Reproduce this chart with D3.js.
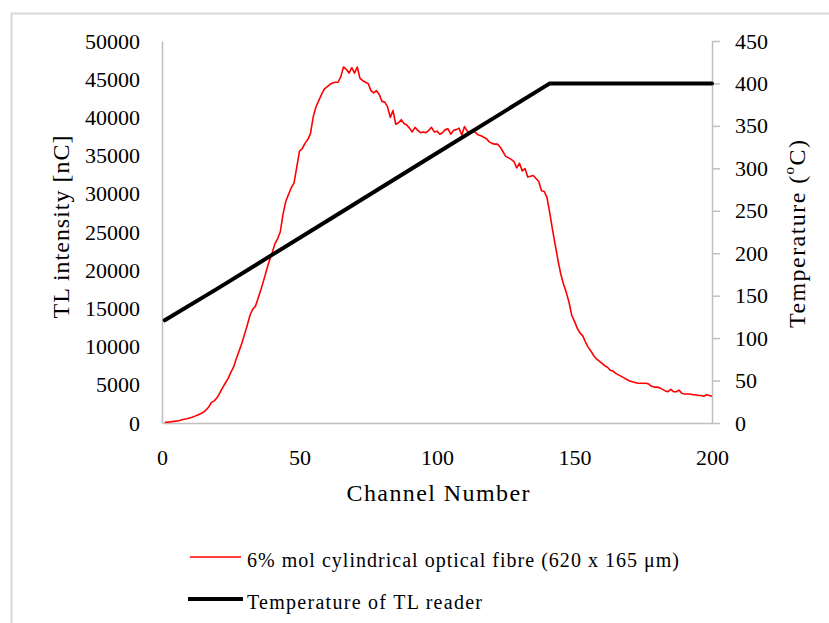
<!DOCTYPE html>
<html>
<head>
<meta charset="utf-8">
<script src="https://d3js.org/d3.v7.min.js"></script>
<style>
  html, body { margin: 0; padding: 0; background: #fff; }
  svg { display: block; }
  text { font-family: "Liberation Serif", "Times New Roman", serif; fill: #000; }
</style>
</head>
<body>
<svg id="chart" width="829" height="623"></svg>
<script>
// ---- Data ----
const channels = d3.range(1, 201); // channel numbers 1..200 (x categories)
const tlIntensity = [
  100, 120, 150, 200, 250, 300, 400, 500, 550, 650,
  750, 900, 1050, 1200, 1400, 1700, 2100, 2700, 2900, 3300,
  3900, 4600, 5200, 5800, 6600, 7300, 8400, 9400, 10400, 11600,
  12800, 14100, 14900, 15300, 16400, 17500, 18700, 20000, 21200, 22200,
  23400, 24100, 25000, 27300, 29000, 29900, 30800, 31400, 33500, 35600,
  35900, 36600, 37100, 37900, 40100, 41400, 42200, 43000, 43700, 44000,
  44300, 44500, 44600, 44600, 45300, 46600, 46300, 45800, 46500, 45800,
  46600, 45100, 44800, 44600, 44400, 43500, 43200, 43500, 43000, 42100,
  42000, 41400, 40000, 40900, 39100, 39300, 39700, 39200, 39000, 38600,
  38100, 38700, 38300, 38000, 38100, 38000, 38300, 38700, 38100, 38200,
  37800, 38000, 38400, 38500, 37800, 38300, 38400, 38600, 37700, 38800,
  38200, 38100, 38300, 38000, 37700, 37600, 37400, 37200, 36800, 36600,
  36500, 36500, 36100, 35500, 34900, 34700, 34500, 34200, 33400, 34000,
  33000, 33300, 32200, 32300, 32400, 32000, 31600, 30400, 30300, 29500,
  27500, 25300, 23300, 21300, 19500, 18200, 17100, 15800, 14100, 13300,
  12400, 11800, 11400, 10600, 9900, 9400, 8800, 8400, 8100, 7800,
  7500, 7300, 6900, 6800, 6500, 6300, 6100, 5900, 5700, 5500,
  5400, 5300, 5200, 5200, 5200, 5200, 5100, 4800, 4700, 4700,
  4600, 4400, 4200, 4100, 4400, 4100, 4100, 4300, 3900, 3800,
  3800, 3800, 3700, 3700, 3600, 3600, 3500, 3700, 3600, 3500
];
const tempChannels = [1, 20, 40, 60, 80, 100, 120, 140, 141, 160, 180, 200];
const temperature  = [121, 158, 198, 238, 278, 318, 358, 398, 400, 400, 400, 400];

const xTicks = [0, 50, 100, 150, 200];
const yLeftTicks = [0, 5000, 10000, 15000, 20000, 25000, 30000, 35000, 40000, 45000, 50000];
const yRightTicks = [0, 50, 100, 150, 200, 250, 300, 350, 400, 450];

const seriesNames = ["6% mol cylindrical optical fibre (620 x 165 \u03bcm)", "Temperature of TL reader"];

// ---- Layout ----
const svg = d3.select("#chart");
const plot = { left: 162, right: 712, top: 41, bottom: 423 };
const axisColor = "#bfbfbf";
const FONT = "'Liberation Serif', 'Times New Roman', serif";

const x = d3.scaleLinear().domain([0, 200]).range([plot.left, plot.right]);
const yL = d3.scaleLinear().domain([0, 50000]).range([plot.bottom, plot.top]);
const yR = d3.scaleLinear().domain([0, 450]).range([plot.bottom, plot.top]);

// outer chart border (left & top visible)
svg.append("rect")
  .attr("x", 11.5).attr("y", 13.5).attr("width", 900).attr("height", 700)
  .attr("fill", "none").attr("stroke", "#d9d9d9").attr("stroke-width", 2);

function styleAxis(g) {
  g.attr("font-family", FONT);
  g.select(".domain").attr("stroke", axisColor).attr("stroke-width", 1.5);
  g.selectAll(".tick line").attr("stroke", axisColor).attr("stroke-width", 1.5);
  g.selectAll("text").style("font-size", "22px").style("font-family", FONT).attr("fill", "#000");
}

// Left axis
svg.append("g").attr("transform", `translate(${plot.left},0)`)
  .call(d3.axisLeft(yL).tickValues(yLeftTicks).tickSize(0).tickPadding(22).tickFormat(d3.format("d")))
  .call(styleAxis);

// Right axis
svg.append("g").attr("transform", `translate(${plot.right},0)`)
  .call(d3.axisRight(yR).tickValues(yRightTicks).tickSize(8).tickPadding(15).tickSizeOuter(0).tickFormat(d3.format("d")))
  .call(styleAxis);

// Bottom axis
svg.append("g").attr("transform", `translate(0,${plot.bottom})`)
  .call(d3.axisBottom(x).tickValues(xTicks).tickSize(0).tickPadding(26).tickFormat(d3.format("d")))
  .call(styleAxis);

// Red TL curve
const tlData = channels.map((c, i) => [c, tlIntensity[i]]);
svg.append("path")
  .datum(tlData)
  .attr("fill", "none").attr("stroke", "#ff0000").attr("stroke-width", 1.6)
  .attr("stroke-linejoin", "round")
  .attr("d", d3.line().x(d => x(d[0])).y(d => yL(d[1])));

// Black temperature curve
const tData = tempChannels.map((c, i) => [c, temperature[i]]);
svg.append("path")
  .datum(tData)
  .attr("fill", "none").attr("stroke", "#000").attr("stroke-width", 4)
  .attr("stroke-linejoin", "round").attr("stroke-linecap", "round")
  .attr("d", d3.line().x(d => x(d[0])).y(d => yR(d[1])));

// Axis titles
svg.append("text")
  .attr("transform", "translate(61,227) rotate(-90)")
  .attr("text-anchor", "middle").attr("dominant-baseline", "central")
  .attr("textLength", 183).attr("lengthAdjust", "spacing")
  .style("font-family", FONT).style("font-size", "24px").text("TL intensity [nC]");

const rt = svg.append("text")
  .attr("transform", "translate(797,234) rotate(-90)")
  .attr("text-anchor", "middle").attr("dominant-baseline", "central")
  .attr("textLength", 188).attr("lengthAdjust", "spacing")
  .style("font-family", FONT).style("font-size", "24px");
rt.append("tspan").text("Temperature (");
rt.append("tspan").attr("baseline-shift", "super").style("font-size", "15px").text("o");
rt.append("tspan").text("C)");

svg.append("text")
  .attr("x", 438).attr("y", 501)
  .attr("text-anchor", "middle")
  .attr("textLength", 183).attr("lengthAdjust", "spacing")
  .style("font-family", FONT).style("font-size", "24px").text("Channel Number");

// Legend
const legend = svg.append("g");
const legendItems = [
  { name: seriesNames[0], color: "#ff0000", width: 1.6, y: 557, x1: 190, x2: 241, len: 432 },
  { name: seriesNames[1], color: "#000", width: 4, y: 599, x1: 188, x2: 243, len: 235 }
];
legendItems.forEach(it => {
  legend.append("line")
    .attr("x1", it.x1).attr("x2", it.x2).attr("y1", it.y).attr("y2", it.y)
    .attr("stroke", it.color).attr("stroke-width", it.width);
  legend.append("text")
    .attr("x", 247).attr("y", it.y + 10)
    .attr("textLength", it.len).attr("lengthAdjust", "spacing")
    .style("font-family", FONT).style("font-size", "20px").text(it.name);
});
</script>
</body>
</html>
